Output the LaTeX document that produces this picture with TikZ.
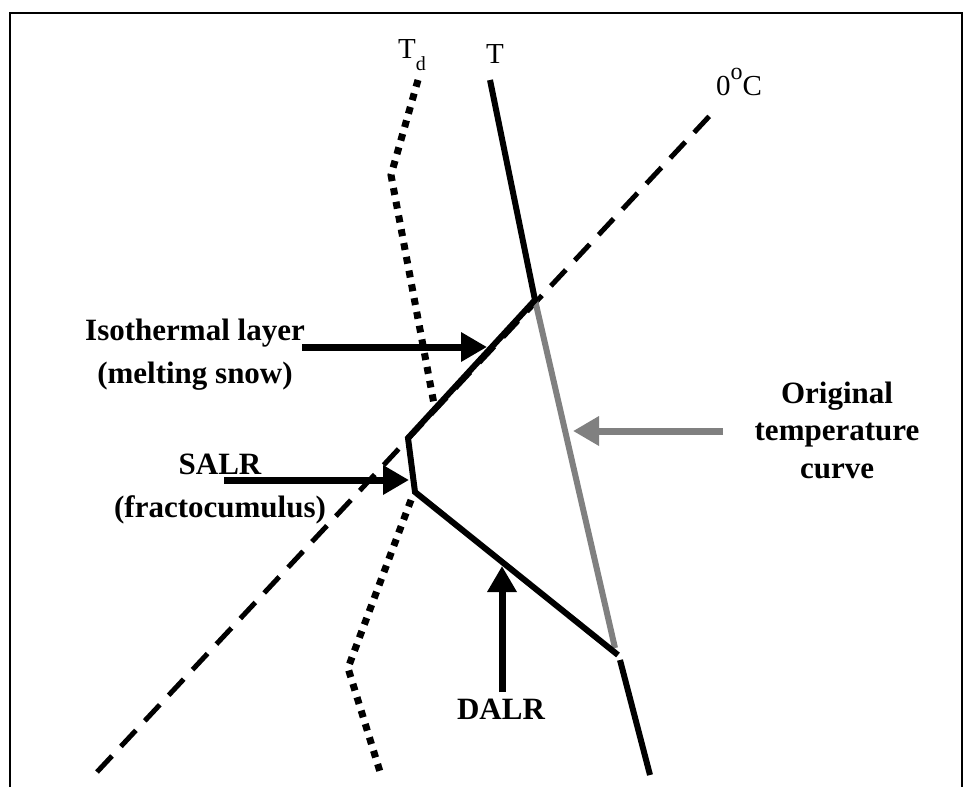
\documentclass[tikz,border=0pt]{standalone}
\usepackage{fontspec}
\setmainfont{Liberation Serif}
\usepackage{tikz}
\usetikzlibrary{arrows.meta}
\definecolor{curvegray}{RGB}{128, 128, 128}
\definecolor{inktext}{RGB}{0, 0, 0}
\tikzset{
	axislabel/.style={text=inktext, font=\fontsize{29}{34}\selectfont, inner sep=0pt},
	notetext/.style={text=inktext, font=\bfseries\fontsize{31}{43}\selectfont, align=center, inner sep=0pt},
	pointer/.style={line width=7pt, -{Triangle[length=26pt, width=28pt]}},
	profile/.style={line width=6pt}
}
\begin{document}
\begin{tikzpicture}[x=1pt, y=-1pt]
	\useasboundingbox (0,0) rectangle (968,787);
	\draw[line width=1.5pt] (10,787) -- (10,13) -- (962,13) -- (962,787);
	% points of the soundings
	\coordinate (zerotop) at (717,108);
	\coordinate (zerobot) at (97,772);
	\coordinate (ttop) at (490,80);
	\coordinate (tiso) at (535,300);
	\coordinate (tsalr) at (408,438);
	\coordinate (tdalr) at (415,492);
	\coordinate (tbase) at (618,655);
	\coordinate (tlow) at (620,660);
	\coordinate (tbot) at (650,775);
	\coordinate (gbot) at (615,648);
	\foreach \n/\x/\y in {1/418/80, 2/391/175, 3/434/404, 4/411/500, 5/348/668, 6/381/775} {
		\coordinate (dew\n) at (\x,\y);
	}
	\draw[line width=5pt, dash pattern=on 22pt off 13pt] (zerobot) -- (zerotop);
	\draw[line width=7pt, dash pattern=on 7pt off 7pt] (dew1) -- (dew2) -- (dew3);
	\draw[line width=7pt, dash pattern=on 7pt off 7pt] (dew4) -- (dew5) -- (dew6);
	\draw[curvegray, profile] (tiso) -- (gbot);
	\draw[profile] (ttop) -- (tiso) -- (tsalr) -- (tdalr) -- (tbase);
	\draw[profile] (tlow) -- (tbot);
	% labels
	\node[axislabel, anchor=base west] (tdlab) at (398,58) {T\raisebox{-12pt}{\fontsize{20}{20}\selectfont d}};
	\node[axislabel, anchor=base] (tlab) at (495,63) {T};
	\node[axislabel, anchor=base west] (zerolab) at (716,95) {0\raisebox{16pt}{\fontsize{24}{24}\selectfont o}C};
	\node[notetext] (isolab) at (195,355) {Isothermal layer\\(melting snow)};
	\node[notetext] (salrlab) at (220,489) {SALR\\(fractocumulus)};
	\node[notetext, font=\bfseries\fontsize{31}{37.5}\selectfont] (origlab) at (837,430) {Original\\temperature\\curve};
	\node[notetext] (dalrlab) at (501,709) {DALR};
	% arrows
	\coordinate (isotail) at (302,347);
	\coordinate (isotip) at (487,347);
	\coordinate (salrtail) at (224,480);
	\coordinate (salrtip) at (409,480);
	\coordinate (origtail) at (723,431);
	\coordinate (origtip) at (573,431);
	\coordinate (dalrtail) at (502,692);
	\coordinate (dalrtip) at (502,566);
	\draw[pointer] (isotail) -- (isotip);
	\draw[pointer] (salrtail) -- (salrtip);
	\draw[pointer, curvegray] (origtail) -- (origtip);
	\draw[pointer] (dalrtail) -- (dalrtip);
\end{tikzpicture}
\end{document}
